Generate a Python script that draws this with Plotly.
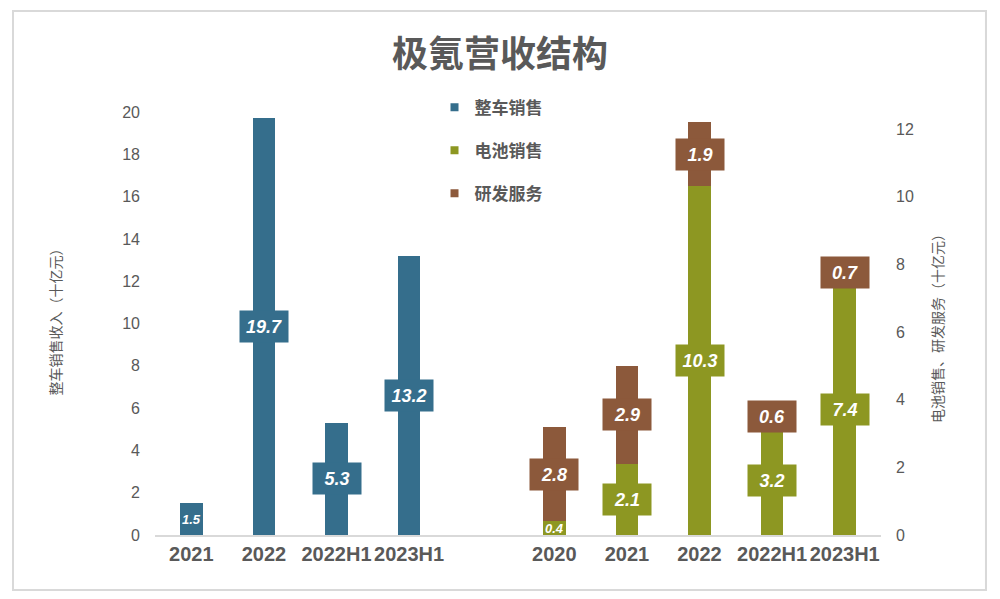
import plotly.graph_objects as go

# 数据 —— 左轴：整车销售；右轴：电池销售 + 研发服务（堆叠）
tick_labels = ["2021", "2022", "2022H1", "2023H1", "", "2020", "2021", "2022", "2022H1", "2023H1"]
x_car = [0, 1, 2, 3]
car_sales = [1.5, 19.7, 5.3, 13.2]
x_right = [5, 6, 7, 8, 9]
battery_sales = [0.4, 2.1, 10.3, 3.2, 7.4]
rd_service = [2.8, 2.9, 1.9, 0.6, 0.7]
series_names = ["整车销售", "电池销售", "研发服务"]

c_blue = "#356E8C"
c_green = "#8D9722"
c_brown = "#8C593B"
c_text = "#595959"
font_cjk = "Liberation Sans, Noto Sans CJK SC"

fig = go.Figure()
fig.add_trace(go.Bar(x=x_car, y=car_sales, name=series_names[0], marker=dict(color=c_blue),
                     width=0.31, yaxis="y", showlegend=False))
fig.add_trace(go.Bar(x=x_right, y=battery_sales, name=series_names[1], marker=dict(color=c_green),
                     width=0.31, yaxis="y2", showlegend=False))
fig.add_trace(go.Bar(x=x_right, y=rd_service, name=series_names[2], marker=dict(color=c_brown),
                     width=0.31, yaxis="y2", showlegend=False))

# 图例用小方块
for i, (nm, col) in enumerate(zip(series_names, [c_blue, c_green, c_brown])):
    fig.add_trace(go.Scatter(x=[None], y=[None], mode="markers", name="<b>%s</b>" % nm,
                             marker=dict(symbol="square", size=8, color=col),
                             legendgroup=str(i), showlegend=True))

# 数据标签（带底色的方框，放在各段中间）
def add_label(x, y, v, color, yref, small=False):
    if small:
        fig.add_annotation(x=x, y=y, xref="x", yref=yref, text="<b><i>%.1f</i></b>" % v,
                           showarrow=False, font=dict(family=font_cjk, size=13, color="white"))
    else:
        fig.add_annotation(x=x, y=y, xref="x", yref=yref, text="<b><i>%.1f</i></b>" % v,
                           showarrow=False, bgcolor=color, width=46, height=29, borderpad=1,
                           font=dict(family=font_cjk, size=18, color="white"))

for x, v in zip(x_car, car_sales):
    add_label(x, v / 2, v, c_blue, "y", small=(v < 2))
for x, b, r in zip(x_right, battery_sales, rd_service):
    add_label(x, b / 2, b, c_green, "y2", small=(b < 1))
    add_label(x, b + r / 2, r, c_brown, "y2", small=(r < 0.5))

# 坐标轴标题
fig.add_annotation(x=-0.15, y=0.512, xref="paper", yref="paper", text="整车销售收入（十亿元）",
                   textangle=-90, showarrow=False, font=dict(size=14, color=c_text))
fig.add_annotation(x=1.092, y=0.496, xref="paper", yref="paper", text="电池销售、研发服务（十亿元）",
                   textangle=-90, showarrow=False, font=dict(size=14, color=c_text))

# 页面自带 8px 边距，这里把边距往左上挪一点
fig.update_layout(
    width=1000, height=599,
    paper_bgcolor="white", plot_bgcolor="white",
    barmode="stack",
    margin=dict(l=147, r=127, t=104, b=72, autoexpand=False),
    font=dict(family=font_cjk, color=c_text),
    title=dict(text="<b>极氪营收结构</b>", x=0.492, xanchor="center", y=0.922, yanchor="middle",
               font=dict(family=font_cjk, size=36, color=c_text)),
    xaxis=dict(range=[-0.5, 9.5], tickvals=list(range(10)), ticktext=["<b>%s</b>" % t for t in tick_labels],
               tickfont=dict(size=20, color=c_text), showgrid=False, showline=True,
               linecolor="#D9D9D9", linewidth=2, ticks="", zeroline=False, automargin=False),
    yaxis=dict(range=[0, 20], dtick=2, showgrid=False, zeroline=False, showline=False,
               tickfont=dict(size=16, color=c_text), ticklabelstandoff=14, automargin=False),
    yaxis2=dict(range=[0, 12.5], dtick=2, overlaying="y", side="right", showgrid=False,
                zeroline=False, showline=False, tickfont=dict(size=16, color=c_text),
                ticklabelstandoff=14, automargin=False),
    legend=dict(x=0.385, y=1.053, xanchor="left", yanchor="top", traceorder="grouped",
                tracegroupgap=18, itemwidth=30, bgcolor="rgba(0,0,0,0)",
                font=dict(size=17, color=c_text)),
    bargap=0,
)
fig.update_traces(marker_line_width=0, selector=dict(type="bar"))

# 外框
fig.add_shape(type="rect", xref="paper", yref="paper", x0=-0.1956, x1=1.1446, y0=-0.130, y1=1.2388,
              line=dict(color="#D9D9D9", width=2))

fig.write_html("out.html")
